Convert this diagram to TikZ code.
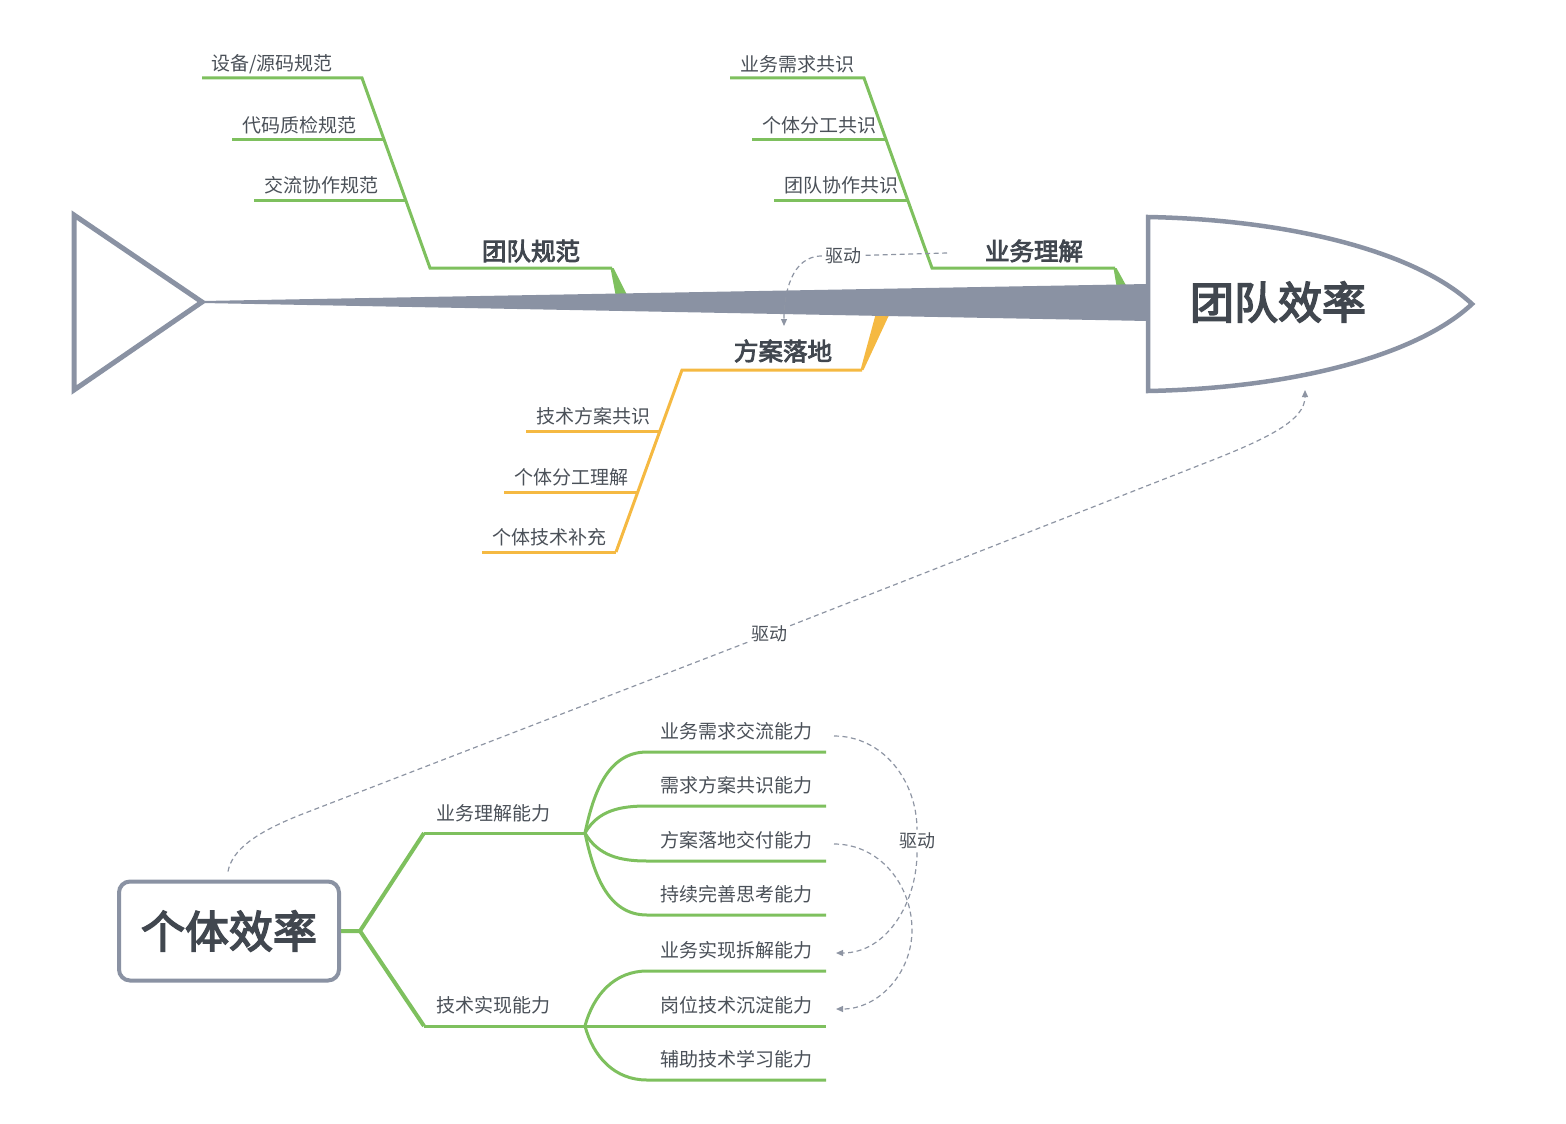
\documentclass[tikz,border=0pt]{standalone}
\usepackage{fontspec}
\setmainfont{Noto Sans CJK SC}
\newfontfamily\mediumcjk{Noto Sans CJK SC}[FakeBold = 3.5]
\usepackage{tikz}
\usetikzlibrary{arrows.meta}

\definecolor{boneGray}{HTML}{8A92A3}
\definecolor{linkGray}{HTML}{8E95A3}
\definecolor{leafGreen}{HTML}{7EC05E}
\definecolor{leafOrange}{HTML}{F5B942}
\definecolor{inkGray}{HTML}{4A5058}
\definecolor{titleGray}{HTML}{41474F}

\tikzset{
	subLabel/.style = {text = inkGray, inner sep = 0pt, font = \fontsize{19}{22}\selectfont},
	boneLabel/.style = {text = titleGray, inner sep = 0pt, font = \mediumcjk\fontsize{24.5}{28}\selectfont},
	titleLabel/.style = {text = titleGray, inner sep = 0pt, font = \mediumcjk\fontsize{44}{50}\selectfont},
	driveLabel/.style = {text = inkGray, inner sep = 3pt, font = \fontsize{18}{22}\selectfont},
	driveLink/.style = {draw = linkGray, line width = 1.2pt, dash pattern = on 5pt off 3.5pt, -{Triangle[length = 7pt, width = 6pt]}},
	greenBone/.style = {draw = leafGreen, line width = 3pt},
	orangeBone/.style = {draw = leafOrange, line width = 3pt},
}

\begin{document}
\begin{tikzpicture}[x = 1pt, y = 1pt]
	\useasboundingbox (0,0) rectangle (1566,-1124);

	\coordinate (tailTop) at (74,-215);
	\coordinate (tailTip) at (202,-302);
	\coordinate (tailBottom) at (74,-390);
	\coordinate (spineTop) at (1148,-284);
	\coordinate (spineBottom) at (1148,-321);

	\begin{scope}
		\fill[leafGreen] (610.5,-268) -- (613.5,-268) -- (628,-297) -- (616,-297) -- cycle;
		\fill[leafGreen] (1113.5,-268) -- (1116.5,-268) -- (1128,-289) -- (1117,-289) -- cycle;
		\fill[leafOrange] (860.5,-370) -- (863.5,-370) -- (890,-313) -- (876,-313) -- cycle;
	\end{scope}

	\begin{scope}[boneGray]
		\fill (202,-301) -- (spineTop) -- (spineBottom) -- (202,-303) -- cycle;
		\draw[line width = 5pt, line join = miter] (tailTop) -- (tailTip) -- (tailBottom) -- cycle;
		\draw[line width = 4.5pt, fill = white] (1148,-217) .. controls (1300,-220) and (1420,-255) .. (1472,-304) .. controls (1420,-353) and (1300,-388) .. (1148,-391) -- cycle;
	\end{scope}
	\node[titleLabel] (teamEff) at (1278,-302) {团队效率};

	% 团队规范
	\coordinate (normTop) at (362,-78);
	\coordinate (normBase) at (430,-268);
	\coordinate (normEnd) at (612,-268);
	\draw[greenBone] (202,-78) -- (normTop) -- (normBase) -- (normEnd);
	\foreach \y/\xl/\xr in {139/232/384, 200/254/406}
		\draw[greenBone] (\xl,-\y) -- (\xr,-\y);
	\node[boneLabel] (norm) at (531,-251) {团队规范};
	\node[subLabel] (normDevice) at (272,-64) {设备/源码规范};
	\node[subLabel] (normCode) at (299,-125) {代码质检规范};
	\node[subLabel] (normTalk) at (321,-185) {交流协作规范};

	% 业务理解
	\coordinate (bizTop) at (864,-78);
	\coordinate (bizBase) at (932,-268);
	\coordinate (bizTail) at (1115,-268);
	\draw[greenBone] (730,-78) -- (bizTop) -- (bizBase) -- (bizTail);
	\foreach \y/\xl/\xr in {139/752/886, 200/774/908}
		\draw[greenBone] (\xl,-\y) -- (\xr,-\y);
	\node[boneLabel] (biz) at (1034,-251) {业务理解};
	\node[subLabel] (bizNeed) at (797,-64) {业务需求共识};
	\node[subLabel] (bizRole) at (819,-125) {个体分工共识};
	\node[subLabel] (bizTeam) at (841,-185) {团队协作共识};

	% 方案落地
	\coordinate (planTop) at (682,-370);
	\coordinate (planTail) at (862,-370);
	\coordinate (planBottom) at (616,-552);
	\draw[orangeBone] (planTail) -- (planTop) -- (planBottom);
	\foreach \y/\xl/\xr in {431/526/660, 492/504/638, 552/482/616}
		\draw[orangeBone] (\xl,-\y) -- (\xr,-\y);
	\node[boneLabel] (plan) at (783,-351) {方案落地};
	\node[subLabel] (planTech) at (593,-416) {技术方案共识};
	\node[subLabel] (planRole) at (571,-477) {个体分工理解};
	\node[subLabel] (planSkill) at (549,-537) {个体技术补充};

	% 个体效率
	\node[titleLabel, draw = boneGray, line width = 4pt, rounded corners = 11pt, fill = white, minimum width = 220pt, minimum height = 99pt] (personal) at (229,-931) {个体效率};
	\coordinate (rootFork) at (360,-931);
	\coordinate (abilityBiz) at (424,-833);
	\coordinate (abilityBizEnd) at (585,-833);
	\coordinate (abilityTech) at (424,-1026);
	\coordinate (abilityTechEnd) at (585,-1026);
	\draw[leafGreen, line width = 4pt] (personal.east) -- (rootFork) -- (abilityBiz);
	\draw[leafGreen, line width = 4pt] (rootFork) -- (abilityTech);
	\draw[greenBone] (abilityBiz) -- (abilityBizEnd);
	\draw[greenBone] (abilityTech) -- (abilityTechEnd);
	\node[subLabel] (bizAbility) at (493,-813) {业务理解能力};
	\node[subLabel] (techAbility) at (493,-1005) {技术实现能力};

	\foreach \y/\bend/\txt [count = \i] in {752/78/业务需求交流能力, 806/60/需求方案共识能力, 861/-60/方案落地交付能力, 915/-78/持续完善思考能力} {
		\draw[greenBone] (abilityBizEnd) to[out = \bend, in = 180] (647,-\y) -- (826,-\y);
		\node[subLabel] (bizLeaf\i) at (736,-\y+20.5) {\txt};
	}
	\foreach \y/\bend/\txt [count = \i] in {971/75/业务实现拆解能力, 1026/0/岗位技术沉淀能力, 1080/-75/辅助技术学习能力} {
		\draw[greenBone] (abilityTechEnd) to[out = \bend, in = 180] (647,-\y) -- (826,-\y);
		\node[subLabel] (techLeaf\i) at (736,-\y+20.5) {\txt};
	}

	% 驱动
	\coordinate (planDriveStart) at (947,-253);
	\coordinate (planDriveEnd) at (784,-326);
	\node[driveLabel] (drivePlan) at (843,-256) {驱动};
	\draw[driveLink] (planDriveStart) -- (drivePlan) to[out = 180, in = 90] (planDriveEnd);

	\coordinate (teamDriveEnd) at (1305,-390);
	\node[driveLabel] (driveTeam) at (769,-634) {驱动};
	\draw[driveLink] ([yshift = 8pt]personal.north -| 228,0) .. controls (232,-850) and (255,-833) .. (300,-815) -- (driveTeam) -- (1200,-465) .. controls (1270,-438) and (1305,-420) .. (teamDriveEnd);

	\coordinate (leafDriveStart) at (834,-736);
	\coordinate (leafDriveEnd) at (836,-953);
	\coordinate (deliverDriveStart) at (834,-844);
	\coordinate (deliverDriveTurn) at (912,-930);
	\coordinate (deliverDriveEnd) at (836,-1009);
	\node[driveLabel] (driveLeaf) at (917,-841) {驱动};
	\draw[driveLink] (leafDriveStart) to[out = 0, in = 90] (driveLeaf) to[out = -90, in = 0] (leafDriveEnd);
	\draw[driveLink] (deliverDriveStart) to[out = 0, in = 90] (deliverDriveTurn) to[out = -90, in = 0] (deliverDriveEnd);

\end{tikzpicture}
\end{document}
